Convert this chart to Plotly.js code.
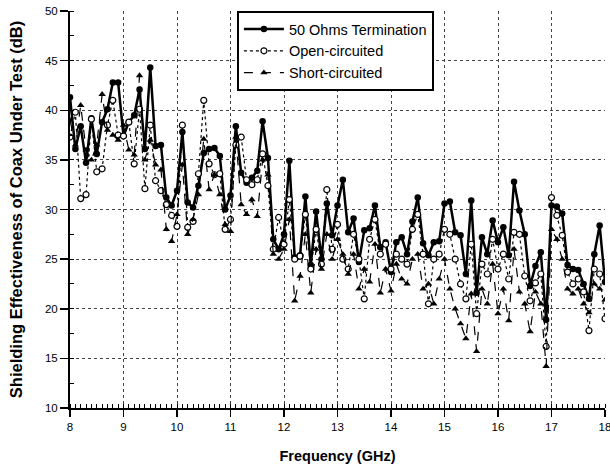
<!DOCTYPE html>
<html>
<head>
<meta charset="utf-8">
<script src="https://cdn.plot.ly/plotly-3.0.1.min.js"></script>
<style>html,body{margin:0;padding:0;background:#fff;}</style>
</head>
<body>
<div id="chart" style="width:610px;height:471px;"></div>
<script>
const freqGHz = [8.0,8.1,8.2,8.3,8.4,8.5,8.6,8.7,8.8,8.9,
  9.0,9.1,9.2,9.3,9.4,9.5,9.6,9.7,9.8,9.9,
  10.0,10.1,10.2,10.3,10.4,10.5,10.6,10.7,10.8,10.9,
  11.0,11.1,11.2,11.3,11.4,11.5,11.6,11.7,11.8,11.9,
  12.0,12.1,12.2,12.3,12.4,12.5,12.6,12.7,12.8,12.9,
  13.0,13.1,13.2,13.3,13.4,13.5,13.6,13.7,13.8,13.9,
  14.0,14.1,14.2,14.3,14.4,14.5,14.6,14.7,14.8,14.9,
  15.0,15.1,15.2,15.3,15.4,15.5,15.6,15.7,15.8,15.9,
  16.0,16.1,16.2,16.3,16.4,16.5,16.6,16.7,16.8,16.9,
  17.0,17.1,17.2,17.3,17.4,17.5,17.6,17.7,17.8,17.9,18.0];

const term50 = [41.3,36.1,38.4,34.7,39.2,35.6,38.8,40.1,42.8,42.8,
  37.4,38.8,39.5,42.1,36.1,44.3,36.4,36.5,31.2,30.4,
  31.9,37.8,30.7,30.2,32.4,35.7,36.1,36.2,35.4,30.0,
  31.4,38.4,33.7,32.7,33.2,33.9,38.9,35.2,27.0,26.0,
  27.5,34.9,25.2,25.4,31.3,24.4,29.8,25.0,30.6,27.4,
  30.4,33.0,27.7,29.1,24.7,27.9,28.1,30.4,26.2,26.7,
  23.7,26.7,27.2,25.5,28.8,31.2,26.6,25.4,26.7,26.8,
  30.6,30.8,27.7,27.4,23.5,30.9,21.6,27.2,25.5,28.9,
  26.7,28.2,25.4,32.8,29.9,27.5,22.3,24.3,25.7,18.9,
  30.4,30.3,29.6,24.4,24.0,23.9,22.5,21.0,25.5,28.4,22.7];

const openCirc = [37.3,39.8,31.1,31.5,39.1,33.8,34.1,38.5,41.0,37.5,
  37.4,38.8,34.6,40.1,32.1,38.5,32.9,31.9,30.5,29.4,
  28.3,38.5,28.2,28.8,33.6,41.0,34.6,33.5,33.6,28.0,
  29.0,36.5,37.3,33.0,32.5,33.0,35.6,32.4,26.0,29.2,
  26.5,31.0,25.0,25.3,29.5,24.0,28.0,24.5,32.0,26.0,
  28.5,25.0,24.0,27.5,25.0,21.0,27.0,29.0,25.5,26.5,
  24.0,25.5,25.0,24.5,28.0,29.5,25.5,20.5,25.0,25.5,
  28.0,27.5,25.0,22.5,21.0,26.5,19.5,24.5,23.5,27.0,
  24.0,25.5,23.0,27.7,27.5,23.3,20.8,22.6,23.5,16.2,
  31.2,29.4,27.4,23.7,22.5,23.0,21.7,17.8,24.0,23.5,19.0];

const shortCirc = [39.0,36.5,40.5,36.0,35.0,36.5,41.6,38.0,37.5,37.0,
  38.5,36.0,35.5,43.5,35.0,37.0,34.5,34.0,28.0,26.8,
  29.5,34.5,27.5,29.0,31.5,37.1,32.0,33.5,31.5,28.5,
  27.8,37.3,30.5,29.5,31.0,29.3,35.0,33.5,25.5,25.0,
  26.0,29.0,20.8,23.3,27.5,21.6,26.0,24.0,27.5,25.0,
  27.0,25.5,23.5,25.5,22.0,24.0,22.7,26.5,21.6,24.0,
  21.8,24.5,23.0,22.5,25.0,25.5,22.0,22.5,20.5,23.0,
  25.0,22.0,20.0,18.5,17.0,21.5,15.7,22.0,20.5,24.5,
  19.5,22.0,18.8,26.0,21.7,20.5,17.7,21.7,20.5,14.2,
  28.0,27.0,25.0,22.0,21.5,22.0,20.5,19.6,22.5,22.0,20.9];

const seriesNames = ["50 Ohms Termination", "Open-circuited", "Short-circuited"];
const xTickVals = [8,9,10,11,12,13,14,15,16,17,18];
const yTickVals = [10,15,20,25,30,35,40,45,50];

const FONT = "Liberation Sans, Arial, sans-serif";

const traces = [
  {
    x: freqGHz, y: term50, name: seriesNames[0], type: "scatter", mode: "lines+markers",
    line: {color: "#000", width: 2.5},
    marker: {symbol: "circle", size: 6.5, color: "#000"}
  },
  {
    x: freqGHz, y: openCirc, name: seriesNames[1], type: "scatter", mode: "lines+markers",
    line: {color: "#000", width: 1.2, dash: "dot"},
    marker: {symbol: "circle", size: 6, color: "#fff", line: {color: "#000", width: 1.2}}
  },
  {
    x: freqGHz, y: shortCirc, name: seriesNames[2], type: "scatter", mode: "lines+markers",
    line: {color: "#000", width: 1.2, dash: "dash"},
    marker: {symbol: "triangle-up", size: 6.5, color: "#000"}
  }
];

const layout = {
  width: 610, height: 471,
  margin: {l: 70, r: 5, t: 11, b: 63},
  paper_bgcolor: "#fff", plot_bgcolor: "#fff",
  font: {family: FONT, color: "#000", size: 11},
  showlegend: true,
  legend: {
    x: 0.312, y: 1.0, xanchor: "left", yanchor: "top",
    bgcolor: "#fff", bordercolor: "#000", borderwidth: 2,
    font: {family: FONT, size: 14.5, color: "#000"},
    tracegroupgap: 0, itemwidth: 40
  },
  xaxis: {
    range: [8, 18], tickvals: xTickVals, ticktext: xTickVals.map(String),
    ticklabeloverflow: "allow",
    showline: true, linecolor: "#000", linewidth: 2, mirror: false,
    ticks: "outside", ticklen: 7, tickwidth: 1.5, tickcolor: "#000",
    tickfont: {family: FONT, size: 11.5, color: "#000"},
    showgrid: true, gridcolor: "#444", gridwidth: 1, griddash: "dot",
    zeroline: false,
    minor: {dtick: 0.1, ticks: "inside", ticklen: 4, tickcolor: "#000", tickwidth: 1, showgrid: false},
    title: {text: "<b>Frequency (GHz)</b>", font: {family: FONT, size: 14.5, color: "#000"}, standoff: 19}
  },
  yaxis: {
    range: [10, 50], tickvals: yTickVals, ticktext: yTickVals.map(String),
    ticklabeloverflow: "allow",
    showline: true, linecolor: "#000", linewidth: 2, mirror: false,
    ticks: "outside", ticklen: 8, tickwidth: 1.5, tickcolor: "#000",
    tickfont: {family: FONT, size: 11.5, color: "#000"},
    showgrid: true, gridcolor: "#444", gridwidth: 1, griddash: "dot",
    zeroline: false,
    minor: {dtick: 2.5, ticks: "inside", ticklen: 4, tickcolor: "#000", tickwidth: 1, showgrid: false},
    title: {text: "<b>Shielding Effectiveness of Coax Under Test (dB)</b>", font: {family: FONT, size: 16.5, color: "#000"}, standoff: 18}
  }
};

Plotly.newPlot("chart", traces, layout, {displayModeBar: false, staticPlot: true});
</script>
</body>
</html>
